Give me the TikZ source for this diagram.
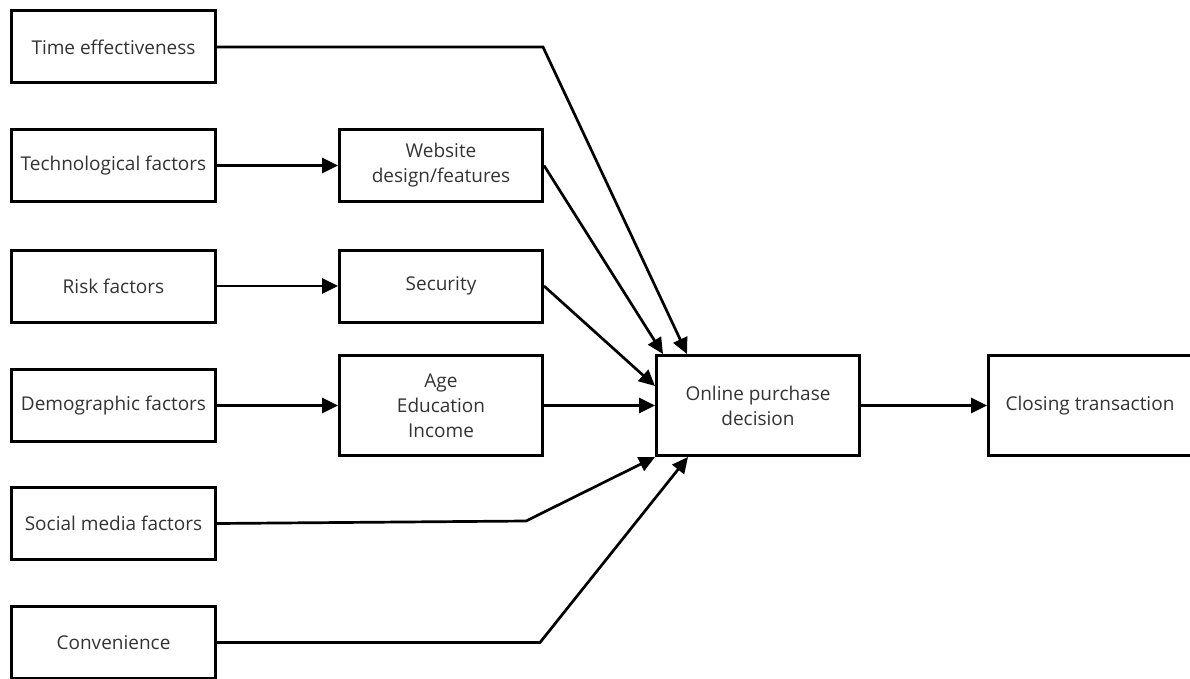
\documentclass[tikz,border=0pt]{standalone}
\usepackage{fontspec}
\setmainfont{Open Sans}
\usetikzlibrary{arrows.meta,calc}
\begin{document}
\begin{tikzpicture}[x=1pt,y=-1pt,
  box/.style={draw, line width=3pt, rectangle, inner sep=0pt, align=center,
    text=black!80, font=\fontsize{19}{25}\selectfont},
  lbox/.style={box, minimum width=204pt, minimum height=72pt},
  mbox/.style={box, minimum width=203pt, minimum height=72pt},
  bbox/.style={box, minimum width=203pt, minimum height=100pt},
  conn/.style={line width=2.7pt, line join=miter, -{Triangle[length=16pt,width=15pt]}}
]
\useasboundingbox (0,0) rectangle (1190,679);
% left column
\node[lbox] (time) at (113.5,47) {Time effectiveness};
\node[lbox] (tech) at (113.5,165.5) {Technological factors};
\node[lbox] (risk) at (113.5,286) {Risk factors};
\node[lbox] (demo) at (113.5,405.5) {Demographic factors};
\node[lbox] (social) at (113.5,523.5) {Social media factors};
\node[lbox] (conv) at (113.5,642.5) {Convenience};
% middle column
\node[mbox] (web) at (441,165.5) {Website\\design/features};
\node[mbox] (sec) at (441,286) {Security};
\node[bbox] (age) at (441,405.5) {Age\\Education\\Income};
% right
\node[bbox] (online) at (758,405.5) {Online purchase\\decision};
\node[bbox] (closing) at (1090,405.5) {Closing transaction};
% bends
\coordinate (tbend) at (543,47);
\coordinate (sbend) at (526,521);
\coordinate (cbend) at (540,642.5);
\coordinate (ttip) at ($(online.north west)+(32,0)$);
\coordinate (wtip) at ($(online.north west)+(8,0)$);
\coordinate (stip) at ($(online.north west)+(0,32)$);
\coordinate (ctip) at ($(online.south west)+(33,0)$);
% connectors
\draw[conn] (tech) -- (web);
\draw[conn] (risk) -- (sec);
\draw[conn] (demo) -- (age);
\draw[conn] (time.east) -- (tbend) -- (ttip);
\draw[conn] (web.east) -- (wtip);
\draw[conn] (sec.east) -- (stip);
\draw[conn] (age.east) -- (online.west);
\draw[conn] (social.east) -- (sbend) -- (online.south west);
\draw[conn] (conv.east) -- (cbend) -- (ctip);
\draw[conn] (online.east) -- (closing.west);
\end{tikzpicture}
\end{document}
